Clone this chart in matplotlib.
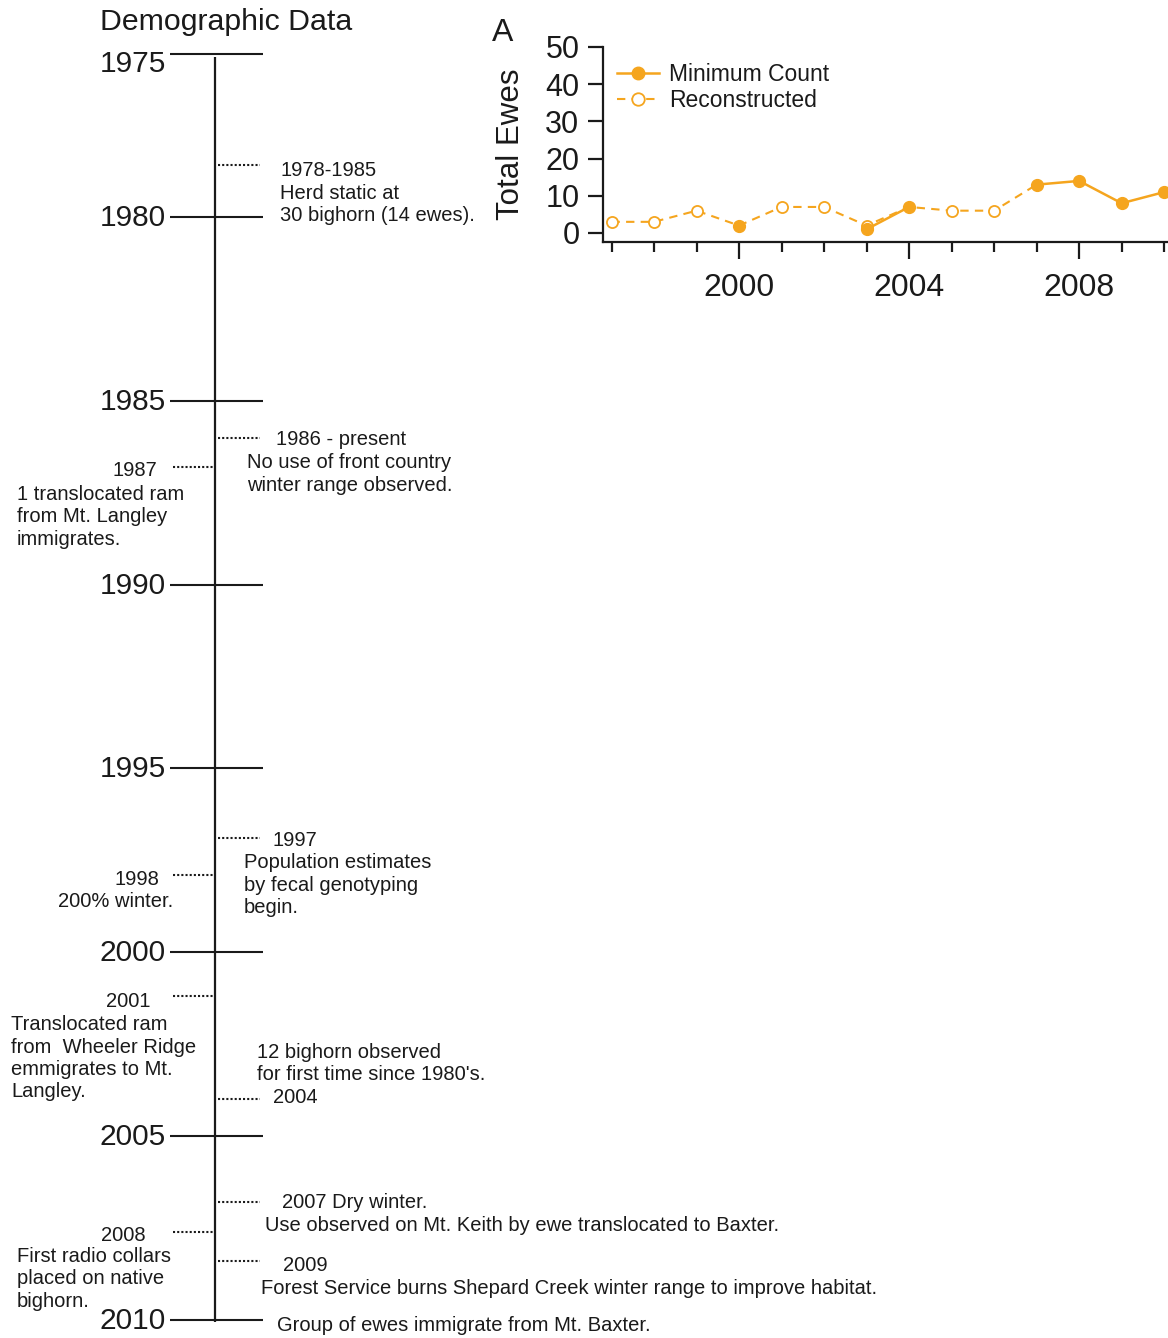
import numpy as np
import matplotlib
matplotlib.use("Agg")
import matplotlib.pyplot as plt

plt.rcParams['font.family'] = ['Liberation Sans', 'DejaVu Sans']

# ---- population chart data ----
years = [1997, 1998, 1999, 2000, 2001, 2002, 2003, 2004, 2005, 2006, 2007, 2008, 2009, 2010]
min_count = [np.nan, np.nan, np.nan, 2, np.nan, np.nan, 1, 7, np.nan, np.nan, 13, 14, 8, 11]
recon_years = [1997, 1998, 1999, 2000, 2001, 2002, 2003, 2004, 2005, 2006, 2007]
recon_vals = [3, 3, 6, 2, 7, 7, 2, 7, 6, 6, 13]
recon_open_years = [1997, 1998, 1999, 2001, 2002, 2003, 2005, 2006]
recon_open_vals = [3, 3, 6, 7, 7, 2, 6, 6]
chart_yticks = [0, 10, 20, 30, 40, 50]
chart_xlabels = [2000, 2004, 2008]

# ---- timeline data ----
tl_ticks = [1975, 1980, 1985, 1990, 1995, 2000, 2005, 2010]

# right side events: year of dotted line, header, body
right_years = [1978.4, 1986.0, 1996.9, 2004.0, 2006.8, 2008.4]
right_heads = ["1978-1985", "1986 - present", "1997", "2004", "2007 Dry winter.", "2009"]
right_bodies = ["Herd static at\n30 bighorn (14 ewes).",
                "No use of front country\nwinter range observed.",
                "Population estimates\nby fecal genotyping\nbegin.",
                "12 bighorn observed\nfor first time since 1980's.",
                "Use observed on Mt. Keith by ewe translocated to Baxter.",
                "Forest Service burns Shepard Creek winter range to improve habitat."]
last_note = "Group of ewes immigrate from Mt. Baxter."

# left side events
left_years = [1986.8, 1997.9, 2001.2, 2007.6]
left_heads = ["1987", "1998", "2001", "2008"]
left_bodies = ["1 translocated ram\nfrom Mt. Langley\nimmigrates.",
               "200% winter.",
               "Translocated ram\nfrom  Wheeler Ridge\nemmigrates to Mt.\nLangley.",
               "First radio collars\nplaced on native\nbighorn."]

orange = '#F5A51E'
ink = '#1a1a1a'

fig = plt.figure(figsize=(11.68, 13.38), dpi=100)

# ---------------- timeline ----------------
# 1975-1980 stretch is drawn a little shorter than the rest
k = 4.43 / 5.0
def fwd(y):
    y = np.asarray(y, dtype=float)
    return np.where(y < 1980, 1980 - (1980 - y) * k, y)
def inv(s):
    s = np.asarray(s, dtype=float)
    return np.where(s < 1980, 1980 - (1980 - s) / k, s)

ax = fig.add_axes([0, 0, 1, 1])
ax.set_yscale('function', functions=(fwd, inv))
ax.set_xlim(0, 1168)
ax.set_ylim(2010.49, 1973.34)
ax.axis('off')

ax.plot([215, 215], [1975.1, 2010.05], color=ink, lw=1.6, solid_capstyle='butt')
for i, t in enumerate(tl_ticks):
    ax.plot([170, 263], [t, t], color=ink, lw=1.5, solid_capstyle='butt')
    dy = -10 if i == 0 else -1
    ax.annotate(str(t), xy=(166, t), xytext=(0, dy), textcoords='offset pixels',
                ha='right', va='center', fontsize=21.5, color=ink)

fig.text(100 / 1168, 1 - 22 / 1338, "Demographic Data", fontsize=21.8,
         color=ink, ha='left', va='center')

# right events layout (pixels)
rh_x = [280, 276, 273, 273, 282, 283]
rh_dy = [-6, -2, -2, 2, 0, -4]
rb_x = [280, 247, 244, 257, 265, 261]
rb_dy = [-39.5, -36.5, -46.7, 36, -23, -27]
for i, yr in enumerate(right_years):
    ax.plot([218, 260], [yr, yr], color=ink, lw=1.5, linestyle=(0, (1, 1)))
    ax.annotate(right_heads[i], xy=(rh_x[i], yr), xytext=(0, rh_dy[i]),
                textcoords='offset pixels', ha='left', va='center',
                fontsize=14.5, color=ink)
    ax.annotate(right_bodies[i], xy=(rb_x[i], yr), xytext=(0, rb_dy[i]),
                textcoords='offset pixels', ha='left', va='center',
                fontsize=14.5, color=ink, linespacing=1.22)
ax.annotate(last_note, xy=(277, 2010), xytext=(0, -6), textcoords='offset pixels',
            ha='left', va='center', fontsize=14.5, color=ink)

# left events layout (pixels)
lh_x = [135, 137, 128, 123]
lh_dy = [-4, -4, -5, -4]
lb_x = [17, 58, 11, 17]
lb_dy = [-50, -26, -62, -47]
for i, yr in enumerate(left_years):
    ax.plot([173, 213], [yr, yr], color=ink, lw=1.5, linestyle=(0, (1, 1)))
    ax.annotate(left_heads[i], xy=(lh_x[i], yr), xytext=(0, lh_dy[i]),
                textcoords='offset pixels', ha='center', va='center',
                fontsize=14.5, color=ink)
    ax.annotate(left_bodies[i], xy=(lb_x[i], yr), xytext=(0, lb_dy[i]),
                textcoords='offset pixels', ha='left', va='center',
                fontsize=14.5, color=ink, linespacing=1.22)

# ---------------- population chart ----------------
W, H = 1168.0, 1338.0
cx = fig.add_axes([603 / W, (H - 242) / H, 565 / W, 195 / H])
cx.set_xlim(1996.8, 2010.09)
cx.set_ylim(-2.42, 50)
for s in ['top', 'right']:
    cx.spines[s].set_visible(False)
for s in ['left', 'bottom']:
    cx.spines[s].set_linewidth(1.6)
    cx.spines[s].set_color(ink)

cx.plot(recon_years, recon_vals, color=orange, lw=1.5, dashes=(4, 3), zorder=2)
cx.plot(recon_open_years, recon_open_vals, linestyle='none', marker='o', ms=8,
        mfc='white', mec=orange, mew=1.3, zorder=3, clip_on=False)
cx.plot(years, min_count, color=orange, lw=1.8, marker='o', ms=8.5,
        mfc=orange, mec=orange, zorder=4, clip_on=False)

# legend handles
h1, = cx.plot([], [], color=orange, lw=1.8, marker='o', ms=9, mfc=orange, mec=orange)
h2, = cx.plot([], [], color=orange, lw=1.5, dashes=(4, 3), marker='o', ms=9,
              mfc='white', mec=orange, mew=1.3)
cx.legend([h1, h2], ["Minimum Count", "Reconstructed"], loc='upper left',
          bbox_to_anchor=(-0.003, 1.0), frameon=False, fontsize=16.5,
          handlelength=1.8, handletextpad=0.45, labelspacing=0.12,
          borderaxespad=0.3, labelcolor=ink)

cx.set_yticks(chart_yticks)
cx.tick_params(axis='y', direction='out', length=11, width=1.6, labelsize=22,
               pad=6, colors=ink)
cx.set_xticks(chart_xlabels)
cx.set_xticklabels([str(v) for v in chart_xlabels])
cx.set_xticks(years, minor=True)
cx.tick_params(axis='x', which='major', direction='out', length=12, width=1.6,
               labelsize=23, pad=10, colors=ink)
cx.tick_params(axis='x', which='minor', direction='out', length=7.5, width=1.6,
               colors=ink)
cx.set_ylabel("Total Ewes", fontsize=22.5, color=ink, labelpad=14)
fig.text(503 / W, 1 - 33 / H, "A", fontsize=23, color=ink, ha='center', va='center')

fig.savefig("out.png", dpi=100)
